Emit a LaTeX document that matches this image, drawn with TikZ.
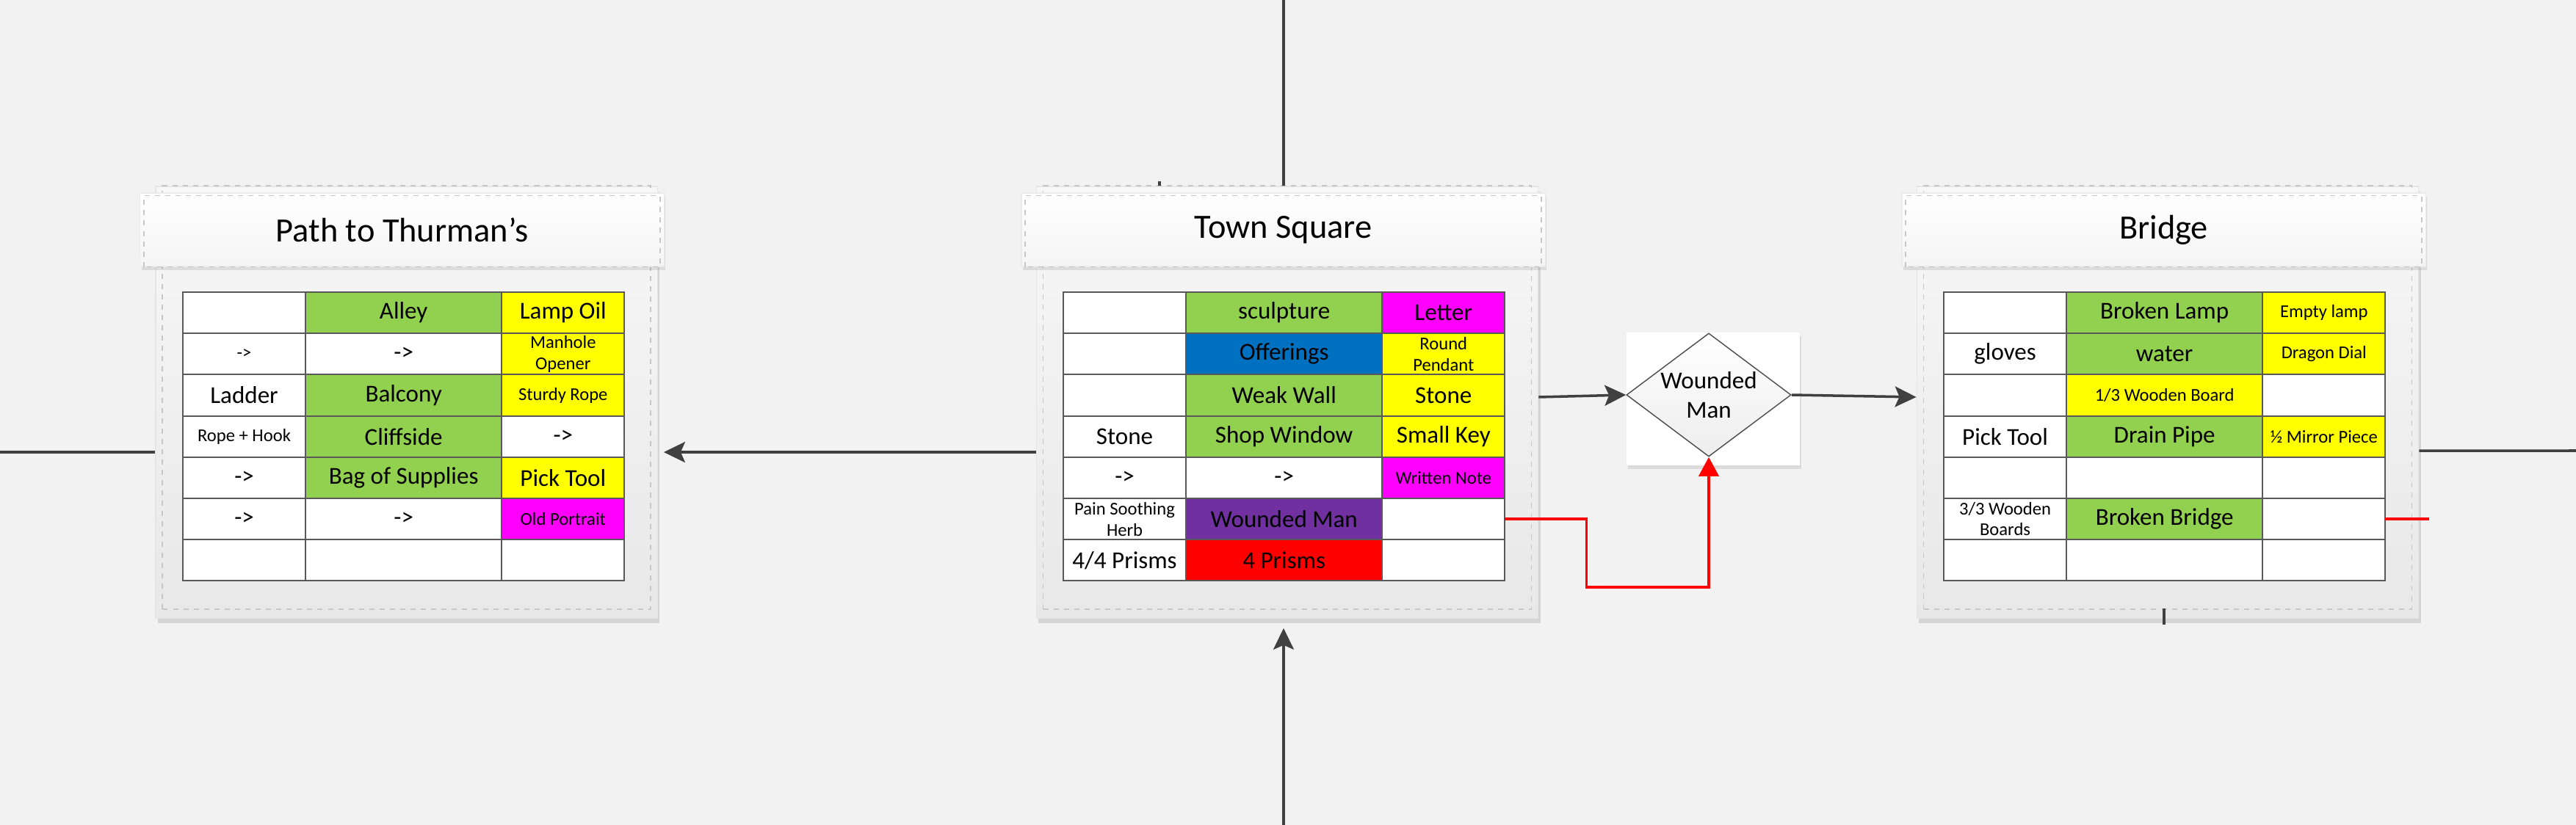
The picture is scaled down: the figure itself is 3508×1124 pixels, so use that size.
\documentclass[tikz,border=0pt]{standalone}
\usepackage{fontspec}
\setmainfont{Carlito}
\usetikzlibrary{shapes.geometric, arrows.meta, shadows}

\definecolor{bggrey}{HTML}{F2F2F2}
\definecolor{linegrey}{HTML}{404040}
\definecolor{cellgreen}{HTML}{92D050}
\definecolor{cellyellow}{HTML}{FFFF00}
\definecolor{cellpink}{HTML}{FF00FF}
\definecolor{cellblue}{HTML}{0070C0}
\definecolor{cellpurple}{HTML}{7030A0}
\definecolor{cellred}{HTML}{FF0000}

\newcommand{\bigtxt}{\fontsize{9.4}{11.4}\selectfont}
\newcommand{\smalltxt}{\fontsize{7}{8.2}\selectfont}
\newcommand{\titletxt}{\fontsize{13.2}{15}\selectfont}

\tikzset{
  panel/.style={minimum width=6.83cm, minimum height=5.88cm, inner sep=0pt,
    top color=black!3, bottom color=black!9, draw=black!10,
    drop shadow={shadow xshift=0.03cm, shadow yshift=-0.07cm, opacity=0.25}},
  headtab/.style={minimum width=7.13cm, minimum height=1cm, inner sep=0pt,
    top color=white, bottom color=black!4, draw=black!8, font=\titletxt,
    drop shadow={shadow xshift=0.02cm, shadow yshift=-0.05cm, opacity=0.2}},
  innerdash/.style={draw=black!22, dash pattern=on 2pt off 2pt, line width=0.4pt},
  cell/.style={draw=black!65, line width=0.6pt, fill=white, minimum height=0.562cm,
    inner sep=0pt, outer sep=0pt, anchor=north west, align=center, font=\bigtxt},
  smalltxt/.style={font=\smalltxt},
  gcell/.style={fill=cellgreen},
  ycell/.style={fill=cellyellow},
  mcell/.style={fill=cellpink},
  bcell/.style={fill=cellblue},
  pcell/.style={fill=cellpurple},
  rcell/.style={fill=cellred},
  conn/.style={draw=linegrey, line width=1pt},
  redconn/.style={draw=cellred, line width=1pt},
}

% one table row: prefix, row, left x, then style/text for the three cells
\newcommand{\itemrow}[9]{%
  \pgfmathsetmacro{\rowy}{398+(#2-1)*56.2}%
  \node[cell, minimum width=1.67cm, #4] (#1-#2-1) at (#3,\rowy) {#5};
  \node[cell, minimum width=2.67cm, #6] (#1-#2-2) at (#1-#2-1.north east) {#7};
  \node[cell, minimum width=1.67cm, #8] (#1-#2-3) at (#1-#2-2.north east) {#9};
}

\begin{document}
\begin{tikzpicture}[x=0.01cm, y=-0.01cm,
  >={Stealth[length=0.29cm, width=0.28cm, inset=0.06cm]}]
  \fill[bggrey] (0,0) rectangle (3508,1124);
  \useasboundingbox (0,0) rectangle (3508,1124);

  % Panels
  \node[panel] (pathT) at (553.5,548) {};
  \draw[innerdash] ([shift={(10,-13)}]pathT.south west) rectangle ([shift={(-10,0)}]pathT.north east);
  \node[headtab] (pathT-head) at (547.5,313) {Path to Thurman’s};
  \draw[innerdash] ([shift={(6,0)}]pathT-head.south west) rectangle ([shift={(-6,4)}]pathT-head.north east);

  \node[panel] (town) at (1753,548) {};
  \draw[innerdash] ([shift={(10,-13)}]town.south west) rectangle ([shift={(-10,0)}]town.north east);
  \node[headtab] (town-head) at (1747.5,313) {Town Square};
  \draw[innerdash] ([shift={(6,0)}]town-head.south west) rectangle ([shift={(-6,4)}]town-head.north east);

  \node[panel] (bridge) at (2952,548) {};
  \draw[innerdash] ([shift={(10,-13)}]bridge.south west) rectangle ([shift={(-10,0)}]bridge.north east);
  \node[headtab] (bridge-head) at (2946.5,313) {Bridge};
  \draw[innerdash] ([shift={(6,0)}]bridge-head.south west) rectangle ([shift={(-6,4)}]bridge-head.north east);

  % Path to Thurman's table
  \itemrow{pt}{1}{249}{}{}{gcell}{Alley}{ycell}{Lamp Oil}
  \itemrow{pt}{2}{249}{smalltxt}{->}{}{->}{ycell,smalltxt}{Manhole\\Opener}
  \itemrow{pt}{3}{249}{}{Ladder}{gcell}{Balcony}{ycell,smalltxt}{Sturdy Rope}
  \itemrow{pt}{4}{249}{smalltxt}{Rope + Hook}{gcell}{Cliffside}{}{->}
  \itemrow{pt}{5}{249}{}{->}{gcell}{Bag of Supplies}{ycell}{Pick Tool}
  \itemrow{pt}{6}{249}{}{->}{}{->}{mcell,smalltxt}{Old Portrait}
  \itemrow{pt}{7}{249}{}{}{}{}{}{}

  % Town Square table
  \itemrow{ts}{1}{1448}{}{}{gcell}{sculpture}{mcell}{Letter}
  \itemrow{ts}{2}{1448}{}{}{bcell}{Offerings}{ycell,smalltxt}{Round\\Pendant}
  \itemrow{ts}{3}{1448}{}{}{gcell}{Weak Wall}{ycell}{Stone}
  \itemrow{ts}{4}{1448}{}{Stone}{gcell}{Shop Window}{ycell}{Small Key}
  \itemrow{ts}{5}{1448}{}{->}{}{->}{mcell,smalltxt}{Written Note}
  \itemrow{ts}{6}{1448}{smalltxt}{Pain Soothing\\Herb}{pcell}{Wounded Man}{}{}
  \itemrow{ts}{7}{1448}{}{4/4 Prisms}{rcell}{4 Prisms}{}{}

  % Bridge table
  \itemrow{br}{1}{2647}{}{}{gcell}{Broken Lamp}{ycell,smalltxt}{Empty lamp}
  \itemrow{br}{2}{2647}{}{gloves}{gcell}{water}{ycell,smalltxt}{Dragon Dial}
  \itemrow{br}{3}{2647}{}{}{ycell,smalltxt}{1/3 Wooden Board}{}{}
  \itemrow{br}{4}{2647}{}{Pick Tool}{gcell}{Drain Pipe}{ycell,smalltxt}{½ Mirror Piece}
  \itemrow{br}{5}{2647}{}{}{}{}{}{}
  \itemrow{br}{6}{2647}{smalltxt}{3/3 Wooden\\Boards}{gcell}{Broken Bridge}{}{}
  \itemrow{br}{7}{2647}{}{}{}{}{}{}

  % Decision
  \node[fill=white, minimum width=2.36cm, minimum height=1.81cm, inner sep=0pt,
    drop shadow={shadow xshift=0.02cm, shadow yshift=-0.05cm, opacity=0.2}] (wbox) at (2333,543.5) {};
  \node[diamond, minimum width=2.24cm, minimum height=1.68cm, inner sep=0pt,
    top color=white, bottom color=black!7, draw=black!70, line width=0.4pt] (wounded) at (2327,538) {};
  \node[font=\bigtxt, align=center] (wounded-txt) at (wounded.center) {Wounded\\Man};

  % Free ends
  \coordinate (topin) at (1748,0);
  \coordinate (botin) at (1748,1124);
  \coordinate (leftin) at (0,616);
  \coordinate (rightout) at (3508,614);

  % Arrows
  \draw[conn] (topin) -- (topin |- town.north);
  \draw[conn, ->, shorten >=0.13cm] (botin) -- (botin |- town.south);
  \draw[conn] (leftin) -- (leftin -| pathT.west);
  \draw[conn, ->, shorten >=0.08cm] ([yshift=-0.68cm]town.west) -- ([yshift=-0.68cm]pathT.east);
  \draw[conn, ->] ([yshift=0.07cm]town.east) -- (wounded.west);
  \draw[conn, ->] (wounded.east) -- ([yshift=0.07cm]bridge.west);
  \draw[conn] ([yshift=-0.66cm]bridge.east) -- (rightout);
  \draw[conn] ([xshift=-1.74cm]town.north) -- ++(0,-6);
  \draw[conn] ([shift={(-5,-14)}]bridge.south) -- ++(0,22);

  % Red links
  \draw[redconn, -{Triangle[length=0.26cm, width=0.27cm]}] (ts-6-3.east) -- ++(111,0) -- ++(0,93) -| (wounded.south);
  \draw[redconn] (br-6-3.east) -- ++(60,0);
\end{tikzpicture}
\end{document}
